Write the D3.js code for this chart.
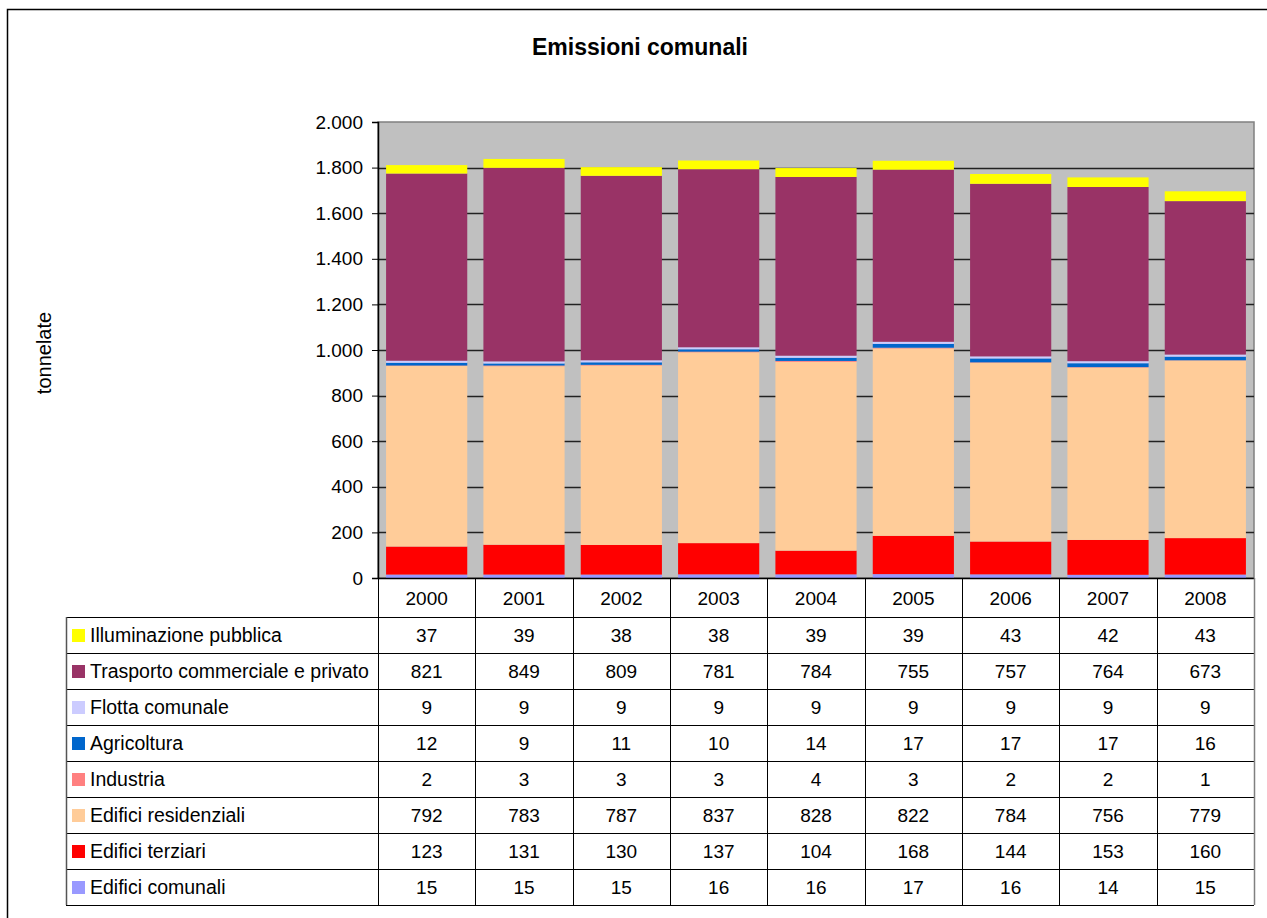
<!DOCTYPE html>
<html>
<head>
<meta charset="utf-8">
<script src="https://cdn.jsdelivr.net/npm/d3@7"></script>
<style>
  body { margin: 0; background: #fff; }
  text { font-family: "Liberation Sans", Arial, sans-serif; fill: #000; }
</style>
</head>
<body>
<script>
// data
var years = ["2000", "2001", "2002", "2003", "2004", "2005", "2006", "2007", "2008"];
var seriesNames = ["Edifici comunali", "Edifici terziari", "Edifici residenziali", "Industria",
                   "Agricoltura", "Flotta comunale", "Trasporto commerciale e privato", "Illuminazione pubblica"];
var seriesColors = ["#9999FF", "#FF0000", "#FFCC99", "#FF8080", "#0066CC", "#CCCCFF", "#993366", "#FFFF00"];
var edificiComunali = [15, 15, 15, 16, 16, 17, 16, 14, 15];
var edificiTerziari = [123, 131, 130, 137, 104, 168, 144, 153, 160];
var edificiResidenziali = [792, 783, 787, 837, 828, 822, 784, 756, 779];
var industria = [2, 3, 3, 3, 4, 3, 2, 2, 1];
var agricoltura = [12, 9, 11, 10, 14, 17, 17, 17, 16];
var flottaComunale = [9, 9, 9, 9, 9, 9, 9, 9, 9];
var trasporto = [821, 849, 809, 781, 784, 755, 757, 764, 673];
var illuminazione = [37, 39, 38, 38, 39, 39, 43, 42, 43];
var yTicks = [0, 200, 400, 600, 800, 1000, 1200, 1400, 1600, 1800, 2000];

var allSeries = [edificiComunali, edificiTerziari, edificiResidenziali, industria,
                 agricoltura, flottaComunale, trasporto, illuminazione];

// build rows for the stack
var rows = years.map(function(y, i) {
  var r = {year: y};
  seriesNames.forEach(function(n, k) { r[n] = allSeries[k][i]; });
  return r;
});
var stack = d3.stack().keys(seriesNames)(rows);

var W = 1267, H = 918;
var plot = {left: 378, right: 1254, top: 122, bottom: 578};
var tableLeft = 66, headerBottom = 617, rowH = 36;
var fs = "19px";

var svg = d3.select("body").append("svg")
    .attr("width", W)
    .attr("height", H);

// outer chart border (only top/left visible)
svg.append("path")
   .attr("d", "M7.5,918 L7.5,9.5 L1267,9.5")
   .attr("fill", "none")
   .attr("stroke", "#000")
   .attr("stroke-width", 1.5);

svg.append("text")
   .attr("x", 640)
   .attr("y", 55)
   .attr("text-anchor", "middle")
   .style("font-size", "23px")
   .style("font-weight", "bold")
   .text("Emissioni comunali");

svg.append("text")
   .attr("transform", "translate(51,353) rotate(-90)")
   .attr("text-anchor", "middle")
   .style("font-size", "20px")
   .text("tonnelate");

var x = d3.scaleBand()
  .domain(years)
  .range([plot.left, plot.right])
  .paddingInner(0.166)
  .paddingOuter(0.083);

var xCol = d3.scaleBand()
  .domain(years)
  .range([plot.left, plot.right]);

var y = d3.scaleLinear()
  .domain([0, 2000])
  .range([plot.bottom, plot.top]);

// plot background
svg.append("rect")
   .attr("x", plot.left)
   .attr("y", plot.top)
   .attr("width", plot.right - plot.left)
   .attr("height", plot.bottom - plot.top)
   .attr("fill", "#C0C0C0")
   .attr("stroke", "#808080")
   .attr("stroke-width", 1.5);

// gridlines
svg.append("g")
   .selectAll("line")
   .data(yTicks.filter(function(d) { return d > 0 && d < 2000; }))
   .enter().append("line")
   .attr("x1", plot.left)
   .attr("x2", plot.right)
   .attr("y1", function(d) { return Math.round(y(d)) + 0.5; })
   .attr("y2", function(d) { return Math.round(y(d)) + 0.5; })
   .attr("stroke", "#222")
   .attr("stroke-width", 1.3);

// stacked bars
svg.append("g")
   .selectAll("g")
   .data(stack)
   .enter().append("g")
   .attr("fill", function(d, i) { return seriesColors[i]; })
   .selectAll("rect")
   .data(function(d) { return d; })
   .enter().append("rect")
   .attr("x", function(d) { return x(d.data.year); })
   .attr("width", x.bandwidth())
   .attr("y", function(d) { return y(d[1]); })
   .attr("height", function(d) { return y(d[0]) - y(d[1]); });

// y axis
var yAxis = d3.axisLeft(y)
  .tickValues(yTicks)
  .tickSize(6)
  .tickFormat(function(d) { return d3.format(",")(d).replace(/,/g, "."); });

var gy = svg.append("g")
   .attr("transform", "translate(" + plot.left + ",0)")
   .call(yAxis);
gy.select(".domain").attr("stroke", "#000").attr("stroke-width", 1.5);
gy.selectAll(".tick line").attr("stroke", "#000");
gy.selectAll(".tick text")
  .attr("x", -15)
  .style("font-size", fs)
  .style("font-family", "'Liberation Sans', Arial, sans-serif");

// data table
var table = svg.append("g");
var tableBottom = headerBottom + rowH * seriesNames.length;

// horizontal lines
table.append("line")
     .attr("x1", plot.left).attr("x2", plot.right)
     .attr("y1", plot.bottom + 0.5).attr("y2", plot.bottom + 0.5)
     .attr("stroke", "#000").attr("stroke-width", 1.5);
d3.range(seriesNames.length + 1).forEach(function(k) {
  var yy = headerBottom + k * rowH + 0.5;
  table.append("line")
       .attr("x1", tableLeft).attr("x2", plot.right)
       .attr("y1", yy).attr("y2", yy)
       .attr("stroke", "#000").attr("stroke-width", 1);
});

// vertical lines
table.append("line")
     .attr("x1", tableLeft + 0.5).attr("x2", tableLeft + 0.5)
     .attr("y1", headerBottom).attr("y2", tableBottom)
     .attr("stroke", "#555").attr("stroke-width", 1.5);
years.forEach(function(yr) {
  var xx = Math.round(xCol(yr)) + 0.5;
  table.append("line")
       .attr("x1", xx).attr("x2", xx)
       .attr("y1", plot.bottom).attr("y2", tableBottom)
       .attr("stroke", "#000").attr("stroke-width", 1);
});
table.append("line")
     .attr("x1", plot.right + 0.5).attr("x2", plot.right + 0.5)
     .attr("y1", plot.bottom).attr("y2", tableBottom)
     .attr("stroke", "#808080").attr("stroke-width", 1.5);

// year header
table.selectAll(".year")
     .data(years)
     .enter().append("text")
     .attr("class", "year")
     .attr("x", function(d) { return xCol(d) + xCol.bandwidth() / 2; })
     .attr("y", (plot.bottom + headerBottom) / 2 + 7)
     .attr("text-anchor", "middle")
     .style("font-size", fs)
     .text(function(d) { return d; });

// rows: top row is last series
var tableRows = seriesNames.map(function(n, k) { return k; }).reverse();
tableRows.forEach(function(k, r) {
  var cy = headerBottom + r * rowH + rowH / 2;
  table.append("rect")
       .attr("x", 72)
       .attr("y", cy - 6)
       .attr("width", 13)
       .attr("height", 13)
       .attr("fill", seriesColors[k]);
  table.append("text")
       .attr("x", 90)
       .attr("y", cy + 7)
       .style("font-size", "19.5px")
       .text(seriesNames[k]);
  years.forEach(function(yr, i) {
    table.append("text")
         .attr("x", xCol(yr) + xCol.bandwidth() / 2)
         .attr("y", cy + 7)
         .attr("text-anchor", "middle")
         .style("font-size", fs)
         .text(allSeries[k][i]);
  });
});
</script>
</body>
</html>
